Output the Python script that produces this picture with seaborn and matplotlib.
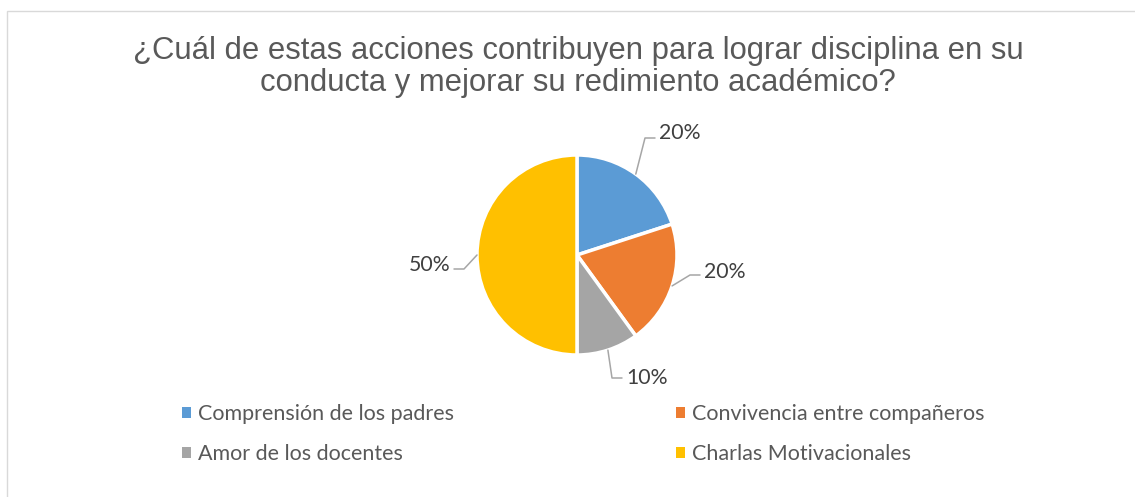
import numpy as np
import matplotlib
matplotlib.use("Agg")
import matplotlib.pyplot as plt
import seaborn as sns
from matplotlib.patches import Patch, Rectangle

# ---- data ----
categories = ["Comprensión de los padres", "Convivencia entre compañeros",
              "Amor de los docentes", "Charlas Motivacionales"]
values = [20, 20, 10, 50]
pct_labels = ["20%", "20%", "10%", "50%"]
title = ("¿Cuál de estas acciones contribuyen para lograr disciplina en su\n"
         "conducta y mejorar su redimiento académico?")

# ---- style ----
sns.set_theme(style="white")
plt.rcParams['font.family'] = ['Lato', 'DejaVu Sans']
colors = sns.color_palette(["#5B9BD5", "#ED7D31", "#A5A5A5", "#FFC000"])

W, H = 1135, 497
fig = plt.figure(figsize=(W / 100, H / 100), dpi=100)

# outer border (only left & top visible in reference)
fig.add_artist(Rectangle((7 / W, -0.1), 2, 1 - 11 / H + 0.1, transform=fig.transFigure,
                         fill=False, edgecolor="#D9D9D9", linewidth=1))

# title
fig.text(578 / W, 1 - 36 / H, title, ha="center", va="top",
         fontsize=22.3, color="#595959", family=["Liberation Sans", "DejaVu Sans"],
         linespacing=1.1)

# pie axes: centre (577,255) px, radius 100 px
ax = fig.add_axes([(577 - 220) / W, (H - 255 - 150) / H, 440 / W, 300 / H])
wedges, _ = ax.pie(values, colors=colors, startangle=90, counterclock=False, radius=1,
                   wedgeprops=dict(edgecolor="white", linewidth=2.5))
ax.set_xlim(-2.2, 2.2)
ax.set_ylim(-1.5, 1.5)
ax.set_aspect("equal")
ax.axis("off")

# leader-line layout (elbow point, horizontal direction, text offset)
elbows = [(0.68, 1.17), (1.13, -0.20), (0.35, -1.23), (-1.13, -0.14)]
dirs = [1, 1, 1, -1]
text_dy = [0.07, 0.055, 0.02, 0.06]
seg = 0.10
for w, (ex, ey), d, dy, lab in zip(wedges, elbows, dirs, text_dy, pct_labels):
    ang = np.deg2rad((w.theta1 + w.theta2) / 2)
    sx, sy = np.cos(ang), np.sin(ang)
    endx = ex + d * seg
    ax.plot([sx, ex, endx], [sy, ey, ey], color="#A6A6A6", lw=1.1, clip_on=False)
    ax.text(endx + d * 0.04, ey + dy, lab, ha="left" if d > 0 else "right",
            va="center_baseline", fontsize=15.3, color="#404040")

# legend (row-major order: matplotlib fills columns first)
order = [0, 2, 1, 3]
handles = [Patch(facecolor=colors[i], edgecolor="none") for i in order]
labels = [categories[i] for i in order]
fig.legend(handles, labels, ncol=2, loc="upper left",
           bbox_to_anchor=(182 / W, 1 - 404 / H), frameon=False,
           borderpad=0, borderaxespad=0,
           prop={"family": ["Lato", "DejaVu Sans"], "size": 15.5}, labelcolor="#595959",
           handlelength=0.42, handleheight=0.42, handletextpad=0.32,
           columnspacing=10.3, labelspacing=0.92)

fig.savefig("out.png", dpi=100, facecolor="white")
